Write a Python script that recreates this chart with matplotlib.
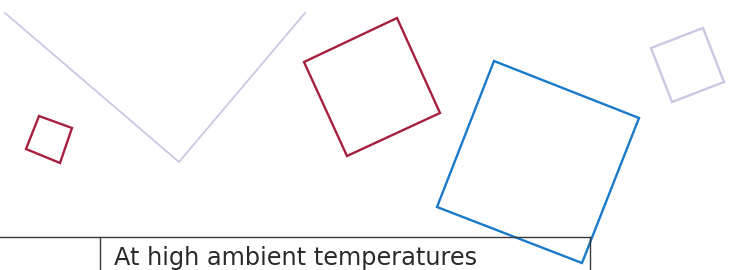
import matplotlib.pyplot as plt
from matplotlib.patches import Polygon

# shape corners (pixel coords, y down)
v_line_x = [5, 179, 305]
v_line_y = [13, 162, 13]

red_small = [(39, 116), (72, 128), (60, 163), (26, 149)]
red_big = [(304, 62), (397, 18), (440, 113), (347, 156)]
blue_big = [(494, 61), (639, 118), (582, 263), (437, 207)]
lavender_small = [(651, 48), (703, 28), (724, 82), (672, 102)]

label = 'At high ambient temperatures'

lavender = '#c9c9e2'
red = '#a6203e'
blue = '#1b79c9'

fig = plt.figure(figsize=(7.33, 2.70), dpi=100)
ax = fig.add_axes([0, 0, 1, 1])
ax.set_xlim(0, 733)
ax.set_ylim(270, 0)
ax.axis('off')

ax.plot(v_line_x, v_line_y, color=lavender, lw=1.3)

for pts, c in [(red_small, red), (red_big, red), (blue_big, blue), (lavender_small, lavender)]:
    ax.add_patch(Polygon(pts, closed=True, fill=False, edgecolor=c, lw=1.7, joinstyle='miter'))

# table fragment at the bottom
ax.plot([0, 590], [237, 237], color='#3a3a3a', lw=1.0)
ax.plot([100, 100], [237, 270], color='#3a3a3a', lw=1.0)
ax.plot([590, 590], [237, 270], color='#3a3a3a', lw=1.0)
ax.text(114, 265, label, fontsize=17.3, color='#2a2a2a', family='DejaVu Sans', va='baseline')

fig.savefig('out.png', dpi=100)
